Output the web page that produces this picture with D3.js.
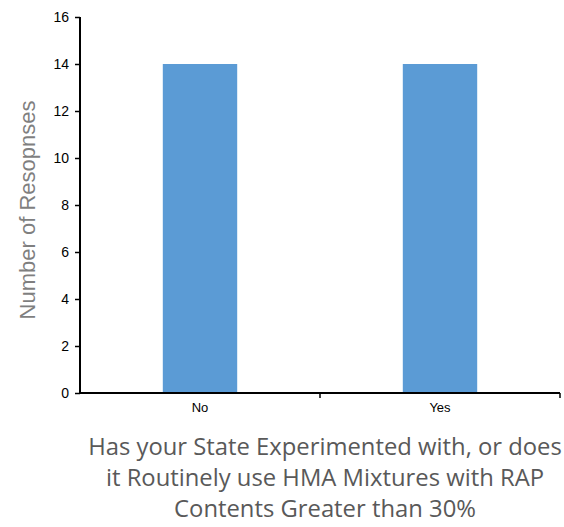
<!DOCTYPE html>
<html><head><meta charset="utf-8">
<script src="https://cdn.jsdelivr.net/npm/d3@7"></script>
<style>body{margin:0;background:#fff}</style>
</head><body>
<svg id="c" width="564" height="527"></svg>
<script>
const categories = ["No", "Yes"];
const values = [14, 14];
const yTicks = [0, 2, 4, 6, 8, 10, 12, 14, 16];
const yTitle = "Number of Resopnses";
const xTitleLines = ["Has your State Experimented with, or does", "it Routinely use HMA Mixtures with RAP", "Contents Greater than 30%"];

(function () {
const svg = d3.select("#c");
const mLeft = 80, mRight = 560, mTop = 17, mBottom = 393;
const arial = "'Liberation Sans', Arial, sans-serif";
const x = d3.scaleBand().domain(categories).range([mLeft, mRight]).padding(0);
const y = d3.scaleLinear().domain([0, 16]).range([mBottom, mTop]);
const barFrac = 0.31;

svg.selectAll("rect.bar").data(values).join("rect")
  .attr("class", "bar")
  .attr("x", (d, i) => x(categories[i]) + x.bandwidth() * (1 - barFrac) / 2)
  .attr("width", x.bandwidth() * barFrac)
  .attr("y", d => y(d))
  .attr("height", d => y(0) - y(d))
  .attr("fill", "#5b9bd5");

// y axis
const ya = svg.append("g").attr("transform", `translate(${mLeft},0)`)
  .call(d3.axisLeft(y).tickValues(yTicks).tickSize(5).tickPadding(6));
ya.select(".domain").attr("stroke", "#000").attr("stroke-width", 2).attr("d", `M0,${mTop}V${mBottom}`);
ya.selectAll(".tick line").attr("stroke", "#000").attr("stroke-width", 1.5);
ya.selectAll(".tick text").attr("font-family", arial).attr("font-size", 14).attr("fill", "#000");

// x axis
const xa = svg.append("g").attr("transform", `translate(0,${mBottom})`)
  .call(d3.axisBottom(x).tickSize(0).tickPadding(10));
xa.select(".domain").attr("stroke", "#000").attr("stroke-width", 2).attr("d", `M${mLeft},0H${mRight}`);
xa.selectAll(".tick text").attr("font-family", arial).attr("font-size", 13).attr("fill", "#000");
const bounds = categories.slice(1).map(c => x(c)).concat([mRight]);
xa.selectAll("line.bt").data(bounds).join("line").attr("class", "bt")
  .attr("x1", d => d).attr("x2", d => d).attr("y1", 0).attr("y2", 5)
  .attr("stroke", "#000").attr("stroke-width", 1.5);

// y title
svg.append("text")
  .attr("transform", `translate(35,${210}) rotate(-90)`)
  .attr("text-anchor", "middle")
  .attr("font-family", arial)
  .attr("font-size", 22).attr("fill", "#7f7f7f")
  .text(yTitle);

// x title
const tg = svg.append("g");
const tt = tg.selectAll("text").data(xTitleLines).join("text")
  .attr("x", 325).attr("y", (d, i) => 455 + i * 31)
  .attr("text-anchor", "middle")
  .attr("font-family", "'Open Sans', sans-serif")
  .attr("font-size", 20).attr("fill", "#595959")
  .text(d => d);
const w0 = tt.nodes()[0].getComputedTextLength();
const fs = 20 * 474 / w0;
tt.attr("font-size", fs);
})();
</script>
</body></html>
